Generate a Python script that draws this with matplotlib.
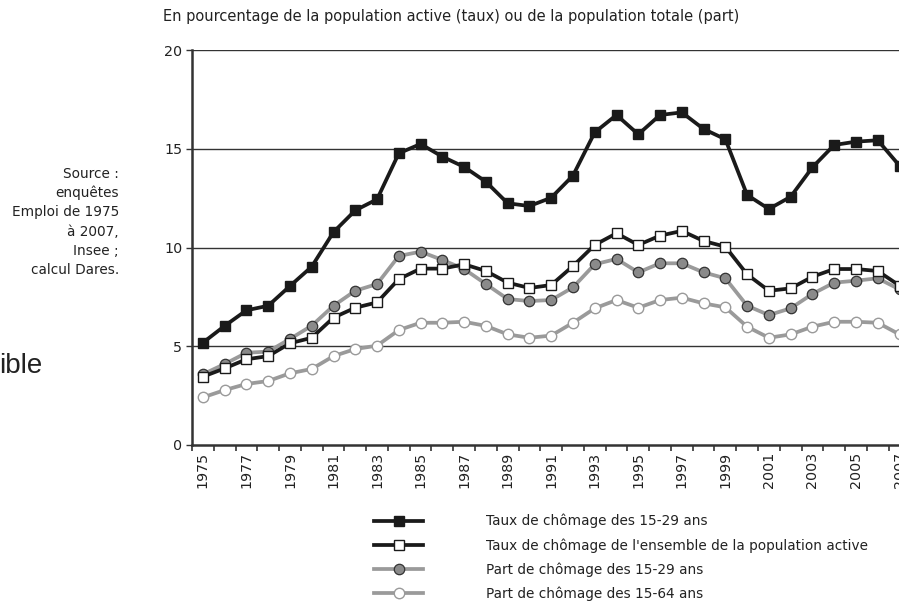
import matplotlib
matplotlib.use("Agg")
import matplotlib.pyplot as plt
from matplotlib.ticker import FixedLocator, NullFormatter

years = list(range(1975, 2008))
taux_15_29 = [5.18, 6.03, 6.82, 7.05, 8.05, 9.03, 10.78, 11.88, 12.44, 14.77, 15.24,
              14.6, 14.08, 13.33, 12.24, 12.1, 12.52, 13.64, 15.83, 16.71, 15.73,
              16.71, 16.84, 16.0, 15.48, 12.66, 11.95, 12.57, 14.06, 15.19, 15.36,
              15.43, 14.14]
taux_ensemble = [3.46, 3.88, 4.34, 4.5, 5.15, 5.43, 6.45, 6.95, 7.22, 8.4, 8.93,
                 8.93, 9.15, 8.81, 8.22, 7.95, 8.1, 9.06, 10.13, 10.72, 10.13,
                 10.6, 10.84, 10.33, 10.04, 8.64, 7.81, 7.93, 8.52, 8.91, 8.91,
                 8.81, 8.07]
part_15_29 = [3.58, 4.1, 4.67, 4.73, 5.37, 6.04, 7.05, 7.81, 8.15, 9.57, 9.79,
              9.37, 8.91, 8.15, 7.39, 7.29, 7.34, 7.98, 9.15, 9.42, 8.74,
              9.2, 9.2, 8.74, 8.44, 7.05, 6.58, 6.92, 7.65, 8.22, 8.32,
              8.44, 7.88]
part_15_64 = [2.41, 2.78, 3.09, 3.24, 3.63, 3.85, 4.5, 4.86, 5.03, 5.82, 6.19,
              6.19, 6.24, 6.03, 5.6, 5.43, 5.54, 6.19, 6.92, 7.34, 6.95,
              7.34, 7.46, 7.17, 6.97, 5.99, 5.43, 5.6, 5.99, 6.24, 6.24,
              6.19, 5.6]
labels = ["Taux de chômage des 15-29 ans",
          "Taux de chômage de l'ensemble de la population active",
          "Part de chômage des 15-29 ans",
          "Part de chômage des 15-64 ans"]
y_ticks = [0, 5, 10, 15, 20]

FONT = "DejaVu Sans"
FS = 9.8
plt.rcParams['font.family'] = [FONT]

W, H = 899, 602
fig = plt.figure(figsize=(W / 100, H / 100), dpi=100)
left, right, bottom, top = 192, 910.4, 445, 50
ax = fig.add_axes([left / W, 1 - bottom / H, (right - left) / W, (bottom - top) / H])

x = list(range(len(years)))
black = "#1a1a1a"
grey = "#9a9a9a"

l1, = ax.plot(x, taux_15_29, color=black, lw=2.7, marker="s", ms=7.5,
              mfc=black, mec=black, zorder=5)
l2, = ax.plot(x, taux_ensemble, color=black, lw=2.7, marker="s", ms=7.5,
              mfc="white", mec=black, mew=1.0, zorder=5)
l3, = ax.plot(x, part_15_29, color=grey, lw=2.7, marker="o", ms=7.5,
              mfc="#8a8a8a", mec="#333333", mew=0.9, zorder=4)
l4, = ax.plot(x, part_15_64, color=grey, lw=2.7, marker="o", ms=7.5,
              mfc="white", mec=grey, mew=1.0, zorder=4)

ax.set_xlim(-0.5, len(years) - 0.5)
ax.set_ylim(0, 20)
ax.set_yticks(y_ticks)
ax.set_yticklabels([str(v) for v in y_ticks], fontsize=FS + 0.5, color="#222222")
for v in y_ticks[1:]:
    ax.axhline(v, color="#333333", lw=1.0, zorder=1)

ax.set_xticks(x[::2])
ax.set_xticklabels([str(y) for y in years[::2]], rotation=90, fontsize=FS + 0.5,
                   color="#222222")
ax.xaxis.set_minor_locator(FixedLocator([i - 0.5 for i in range(len(years) + 1)]))
ax.xaxis.set_minor_formatter(NullFormatter())
ax.tick_params(axis="x", which="major", length=0, pad=5)
ax.tick_params(axis="x", which="minor", length=4, width=1.2, color="#333333", direction="out")
ax.tick_params(axis="y", length=4, width=1.0, color="#333333", pad=3)

for s in ["top", "right"]:
    ax.spines[s].set_visible(False)
ax.spines["left"].set_color("#333333")
ax.spines["left"].set_linewidth(1.8)
ax.spines["bottom"].set_color("#333333")
ax.spines["bottom"].set_linewidth(1.8)

fig.text(163 / W, 1 - 17 / H,
         "En pourcentage de la population active (taux) ou de la population totale (part)",
         fontsize=10.5, ha="left", va="center", color="#222222")

src = ["Source :", "enquêtes", "Emploi de 1975", "à 2007,", "Insee ;", "calcul Dares."]
for i, s in enumerate(src):
    fig.text(119 / W, 1 - (174 + i * 19.2) / H, s, fontsize=FS, ha="right",
             va="center", color="#222222")

fig.text(-1 / W, 1 - 373 / H, "ible", fontsize=20, family="Liberation Sans",
         ha="left", va="baseline", color="#222222")

leg = fig.legend([l1, l2, l3, l4], labels, loc="upper left",
                 bbox_to_anchor=(374 / W, 1 - 514 / H), frameon=False,
                 fontsize=FS, handlelength=3.6, handletextpad=4.6,
                 labelspacing=0.70, borderpad=0, borderaxespad=0,
                 labelcolor="#222222")

fig.savefig("out.png", dpi=100)
